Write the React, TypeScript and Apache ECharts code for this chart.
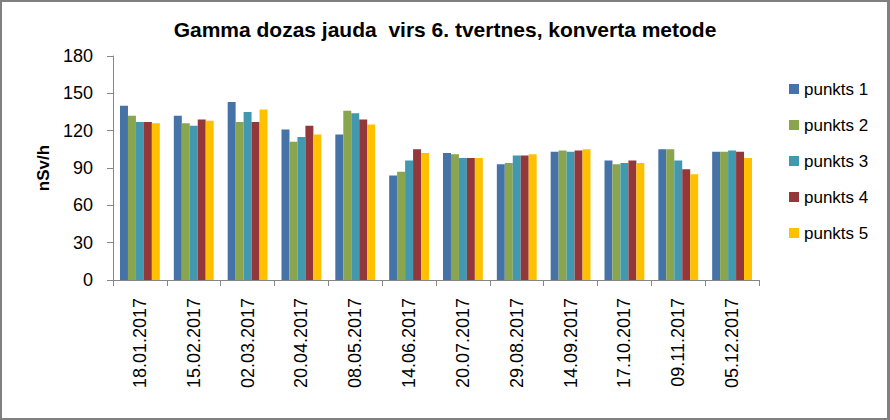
import React, { useEffect, useRef } from "react";
import * as echarts from "echarts";

const categories = [
  "18.01.2017", "15.02.2017", "02.03.2017", "20.04.2017", "08.05.2017", "14.06.2017",
  "20.07.2017", "29.08.2017", "14.09.2017", "17.10.2017", "09.11.2017", "05.12.2017",
];
const punkts1 = [140, 132, 143, 121, 117, 84, 102, 93, 103, 96, 105, 103];
const punkts2 = [132, 126, 127, 111, 136, 87, 101, 94, 104, 93, 105, 103];
const punkts3 = [127, 124, 135, 115, 134, 96, 98, 100, 103, 94, 96, 104];
const punkts4 = [127, 129, 127, 124, 129, 105, 98, 100, 104, 96, 89, 103];
const punkts5 = [126, 128, 137, 117, 125, 102, 98, 101, 105, 94, 85, 98];
const seriesNames = ["punkts 1", "punkts 2", "punkts 3", "punkts 4", "punkts 5"];
const seriesData = [punkts1, punkts2, punkts3, punkts4, punkts5];
const colors = ["#4572A7", "#89A54E", "#4198AF", "#93373B", "#FFC000"];

export default function App() {
  const ref = useRef<HTMLDivElement>(null);
  useEffect(() => {
    const chart = echarts.init(ref.current!, null, { renderer: "svg" });
    chart.setOption({
      animation: false,
      backgroundColor: "#ffffff",
      color: colors,
      title: {
        text: "Gamma dozas jauda  virs 6. tvertnes, konverta metode",
        left: "center",
        top: 14,
        textStyle: { fontFamily: "Liberation Sans", fontSize: 21, fontWeight: "bold", color: "#000" },
      },
      legend: {
        orient: "vertical",
        left: 784,
        top: 75,
        itemWidth: 10,
        itemHeight: 10,
        itemGap: 18,
        icon: "rect",
        data: seriesNames,
        textStyle: { fontFamily: "Liberation Sans", fontSize: 17, color: "#000", lineHeight: 18 },
      },
      grid: { left: 113, right: 131, top: 56, bottom: 140, containLabel: false },
      xAxis: {
        type: "category",
        data: categories,
        axisLine: { lineStyle: { color: "#868686", width: 1 } },
        axisTick: { show: true, alignWithLabel: false, length: 6, lineStyle: { color: "#868686" } },
        axisLabel: {
          rotate: 90,
          margin: 18,
          fontFamily: "Liberation Sans",
          fontSize: 18,
          color: "#000",
        },
      },
      yAxis: {
        type: "value",
        min: 0,
        max: 180,
        interval: 30,
        name: "nSv/h",
        nameLocation: "middle",
        nameGap: 58,
        nameTextStyle: { fontFamily: "Liberation Sans", fontSize: 17, fontWeight: "bold", color: "#000" },
        axisLine: { show: true, lineStyle: { color: "#868686", width: 1 } },
        axisTick: { show: true, length: 6, lineStyle: { color: "#868686" } },
        splitLine: { show: false },
        axisLabel: { margin: 20, fontFamily: "Liberation Sans", fontSize: 18, color: "#000" },
      },
      series: seriesNames.map((name, i) => ({
        name,
        type: "bar",
        data: seriesData[i],
        barGap: "0%",
        barCategoryGap: "26%",
        itemStyle: { color: colors[i] },
      })),
    });
    return () => chart.dispose();
  }, []);
  return (
    <div style={{ position: "fixed", left: 0, top: 0, width: 890, height: 420 }}>
      <div ref={ref} style={{ position: "absolute", left: 0, top: 0, width: 890, height: 420 }} />
      <div
        style={{
          position: "absolute",
          left: 0,
          top: 0,
          width: 890,
          height: 420,
          boxSizing: "border-box",
          borderTop: "2px solid #808080",
          borderLeft: "2px solid #808080",
          borderRight: "3px solid #808080",
          borderBottom: "2px solid #808080",
          pointerEvents: "none",
        }}
      />
    </div>
  );
}
